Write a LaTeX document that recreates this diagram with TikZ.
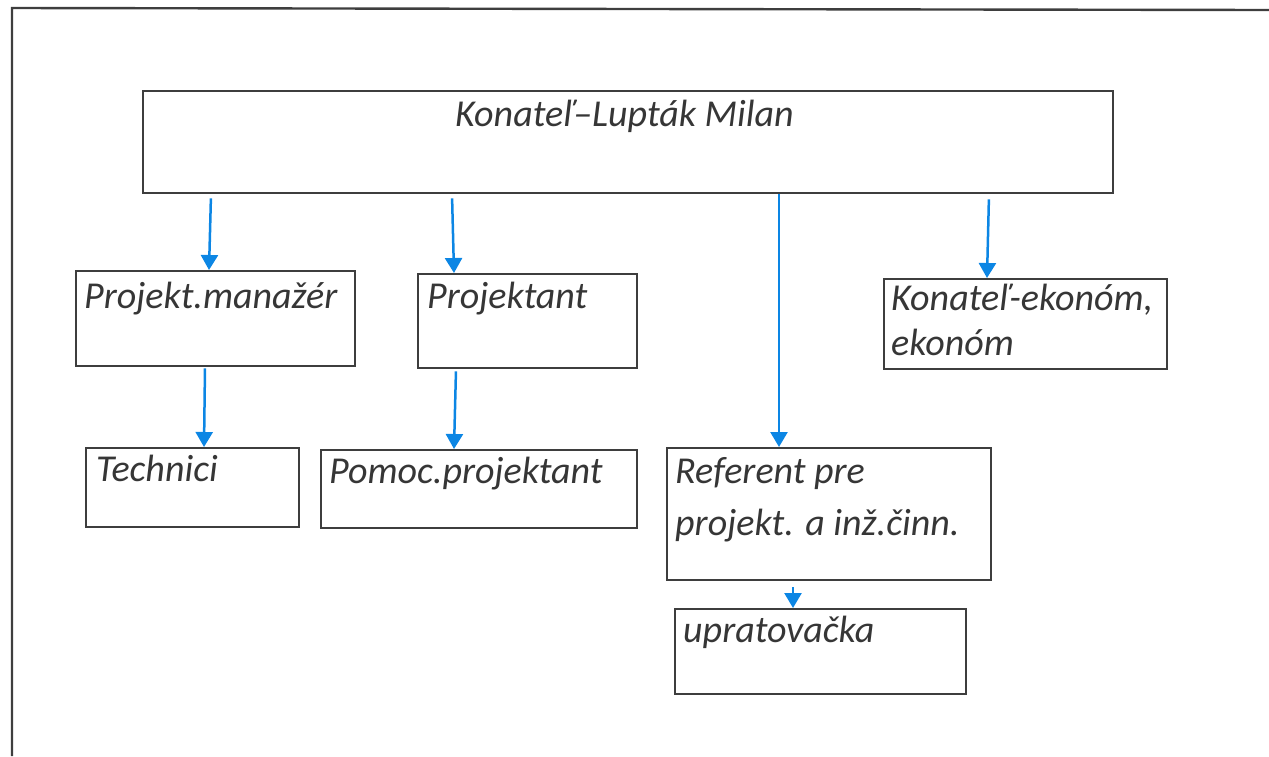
\documentclass[tikz,border=0pt]{standalone}
\usepackage{fontspec}
\setmainfont{Carlito}
\usetikzlibrary{arrows.meta}
\definecolor{ink}{HTML}{363636}
\definecolor{frame}{HTML}{3E3E3E}
\definecolor{arrowblue}{HTML}{0C86E4}
\tikzset{
  box/.style={draw=frame, line width=2.4pt, rectangle, inner sep=0pt, anchor=north west, fill=none},
  lbl/.style={text=ink, inner sep=0pt, anchor=base west, font=\fontsize{38}{45}\selectfont\itshape},
  arr/.style={draw=arrowblue, line width=2.5pt, -{Triangle[width=17pt,length=15pt]}},
}
\begin{document}
\begin{tikzpicture}[x=1pt,y=-1pt]
\useasboundingbox (0,0) rectangle (1269,756);
% outer frame
\draw[frame, line width=2.4pt] (12,756) -- (12,8) -- (1269,10);
% boxes
\node[box, minimum width=970pt, minimum height=102pt] (top) at (142,90) {};
\node[box, minimum width=279pt, minimum height=95pt] (pm) at (75,270) {};
\node[box, minimum width=219pt, minimum height=94pt] (proj) at (417,273) {};
\node[box, minimum width=283pt, minimum height=90pt] (eko) at (883,278) {};
\node[box, minimum width=213pt, minimum height=79pt] (tech) at (85,447) {};
\node[box, minimum width=316pt, minimum height=78pt] (pom) at (320,449) {};
\node[box, minimum width=324pt, minimum height=132pt] (ref) at (666,447) {};
\node[box, minimum width=291pt, minimum height=85pt] (upr) at (674,608) {};
% labels
\node[lbl] (ttop) at (455,126) {Konateľ–Lupták Milan};
\node[lbl] (tpm) at (84,308) {Projekt.manažér};
\node[lbl] (tproj) at (427,308) {Projektant};
\node[lbl] (teko1) at (891,310) {Konateľ-ekonóm,};
\node[lbl] (teko2) at (891,355) {ekonóm};
\node[lbl] (ttech) at (96,481) {Technici};
\node[lbl] (tpom) at (329,483) {Pomoc.projektant};
\node[lbl] (tref1) at (675,483) {Referent pre};
\node[lbl] (tref2) at (675,535) {projekt. a inž.činn.};
\node[lbl] (tupr) at (683,642) {upratovačka};
% connectors
\draw[arr, shorten <=4pt] ([xshift=69pt]top.south west) -- ([xshift=134pt]pm.north west);
\draw[arr, shorten <=4pt] ([xshift=310pt]top.south west) -- ([xshift=37pt]proj.north west);
\draw[arr] ([xshift=637pt]top.south west) -- ([xshift=113pt]ref.north west);
\draw[arr, shorten <=5pt] ([xshift=847pt]top.south west) -- ([xshift=104pt]eko.north west);
\draw[arr, shorten <=1pt] ([xshift=130pt]pm.south west) -- ([xshift=119pt]tech.north west);
\draw[arr, shorten <=2pt] ([xshift=39pt]proj.south west) -- ([xshift=134pt]pom.north west);
\draw[arr, shorten <=6pt] ([xshift=127pt]ref.south west) -- ([xshift=119pt]upr.north west);
\end{tikzpicture}
\end{document}
